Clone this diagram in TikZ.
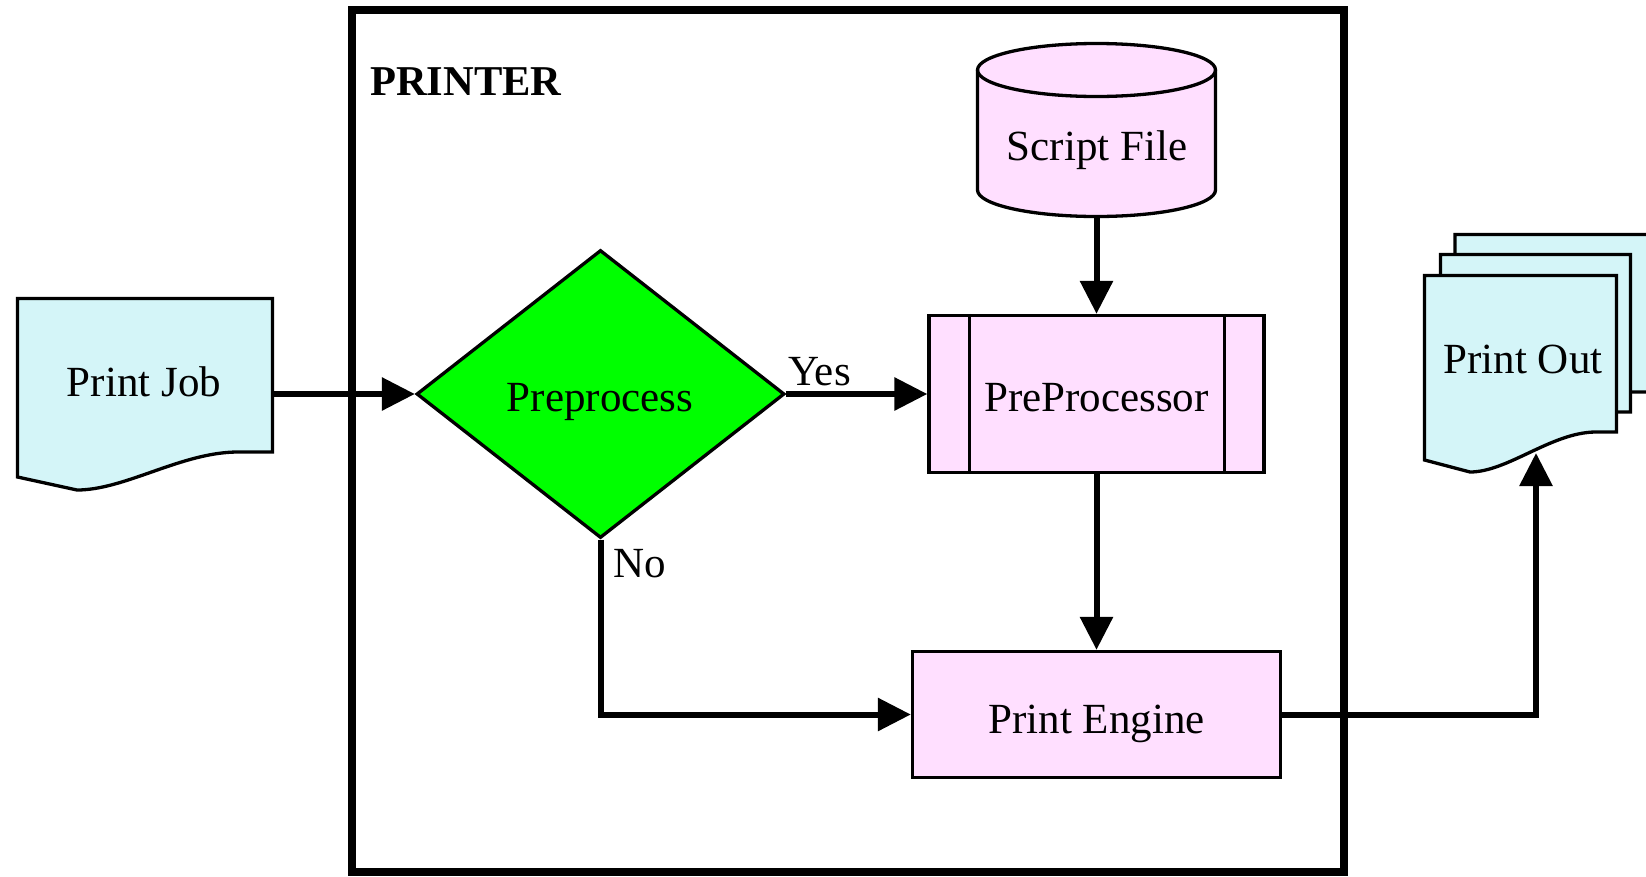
\documentclass[tikz,border=0pt]{standalone}
\usepackage{fontspec}
\setmainfont{Liberation Serif}
\usetikzlibrary{arrows.meta,shapes.geometric}
\definecolor{doccyan}{RGB}{212,245,248}
\definecolor{procpink}{RGB}{255,223,255}
\definecolor{decgreen}{RGB}{0,255,0}
% #1 left, #2 top, #3 right, #4 right-bottom y, #5 left-bottom y, #6 low x, #7 low y, #8 curve end x
\newcommand\docpath[8]{(#1,#2) -- (#3,#2) -- (#3,#4) -- (#8,#4) .. controls ({#8-0.35*(#8-#6)},#4) and ({#6+0.3*(#8-#6)},#7) .. (#6,#7) -- (#1,#5) -- cycle}
\begin{document}
\begin{tikzpicture}[x=1pt,y=-1pt,
  shapeline/.style={draw=black, line width=3.3pt},
  txt/.style={font=\fontsize{43}{50}\selectfont, inner sep=0pt, anchor=base},
  conn/.style={line width=6pt, -{Triangle[length=33pt,width=32pt]}},
  ghost/.style={inner sep=0pt, outer sep=0pt, draw=none}]
\useasboundingbox (0,0) rectangle (1646,876);
\fill[white] (0,0) rectangle (1646,876);

% printer container
\node[draw, line width=8pt, minimum width=992pt, minimum height=862pt, inner sep=0pt] (printer) at (848,441) {};
\node[txt, anchor=base west, font=\fontsize{42.5}{50}\selectfont\bfseries] (printerlabel) at (370,95) {PRINTER};

% Print Job document
\node[ghost, minimum width=258pt, minimum height=156pt] (pj) at (145,375) {};
\filldraw[shapeline, fill=doccyan] \docpath{17.5}{298.5}{272.5}{452}{477}{77}{490}{238};
\node[txt] (pjtext) at (144,396) {Print Job};

% Decision
\node[diamond, shapeline, fill=decgreen, minimum width=368pt, minimum height=288pt, inner sep=0pt] (dia) at (600.5,394) {};
\node[txt] (diatext) at (600,411) {Preprocess};

% Script File cylinder
\node[ghost, minimum width=241pt, minimum height=176pt] (sf) at (1096.5,130) {};
\filldraw[shapeline, fill=procpink] (977.5,70) -- (977.5,190)
  arc[start angle=180, end angle=360, x radius=119pt, y radius=26.5pt]
  -- (1215.5,70)
  arc[start angle=0, end angle=180, x radius=119pt, y radius=26.5pt] -- cycle;
\draw[shapeline] (977.5,70) arc[start angle=180, end angle=360, x radius=119pt, y radius=26.5pt];
\node[txt] (sftext) at (1097,160) {Script File};

% PreProcessor (predefined process)
\node[rectangle, shapeline, fill=procpink, minimum width=335pt, minimum height=157pt, inner sep=0pt] (pp) at (1096.5,394) {};
\draw[shapeline] ([xshift=42pt]pp.north west) -- ([xshift=42pt]pp.south west);
\draw[shapeline] ([xshift=-41pt]pp.north east) -- ([xshift=-41pt]pp.south east);
\node[txt] (pptext) at (1096.5,411) {PreProcessor};

% Print Engine
\node[rectangle, shapeline, fill=procpink, minimum width=368pt, minimum height=126pt, inner sep=0pt] (pe) at (1096.5,714.5) {};
\node[txt] (petext) at (1096.5,733) {Print Engine};

% Print Out stack
\filldraw[shapeline, fill=doccyan] \docpath{1455}{234.5}{1652}{392}{420}{1500}{432}{1626};
\filldraw[shapeline, fill=doccyan] \docpath{1440.5}{254.5}{1630.5}{412}{440}{1485}{452}{1611};
\node[ghost, minimum width=195pt, minimum height=159pt] (po) at (1520.5,353.5) {};
\filldraw[shapeline, fill=doccyan] \docpath{1424.5}{275.5}{1616.5}{432}{460}{1470}{472}{1596};
\node[txt] (potext) at (1523,373) {Print Out};
\coordinate (potip) at (1536,453);

% connectors
\draw[conn] (pj.east |- dia.west) -- (dia.west);
\draw[conn] (dia.east) -- (pp.west);
\draw[conn] (sf.south) -- (pp.north);
\draw[conn] (pp.south) -- (pe.north);
\draw[conn] (dia.south) |- (pe.west);
\draw[conn] (pe.east) -| (potip);

% branch labels
\node[txt, anchor=base west] (yes) at (788,385) {Yes};
\node[txt, anchor=base west] (no) at (613,577) {No};
\end{tikzpicture}
\end{document}
